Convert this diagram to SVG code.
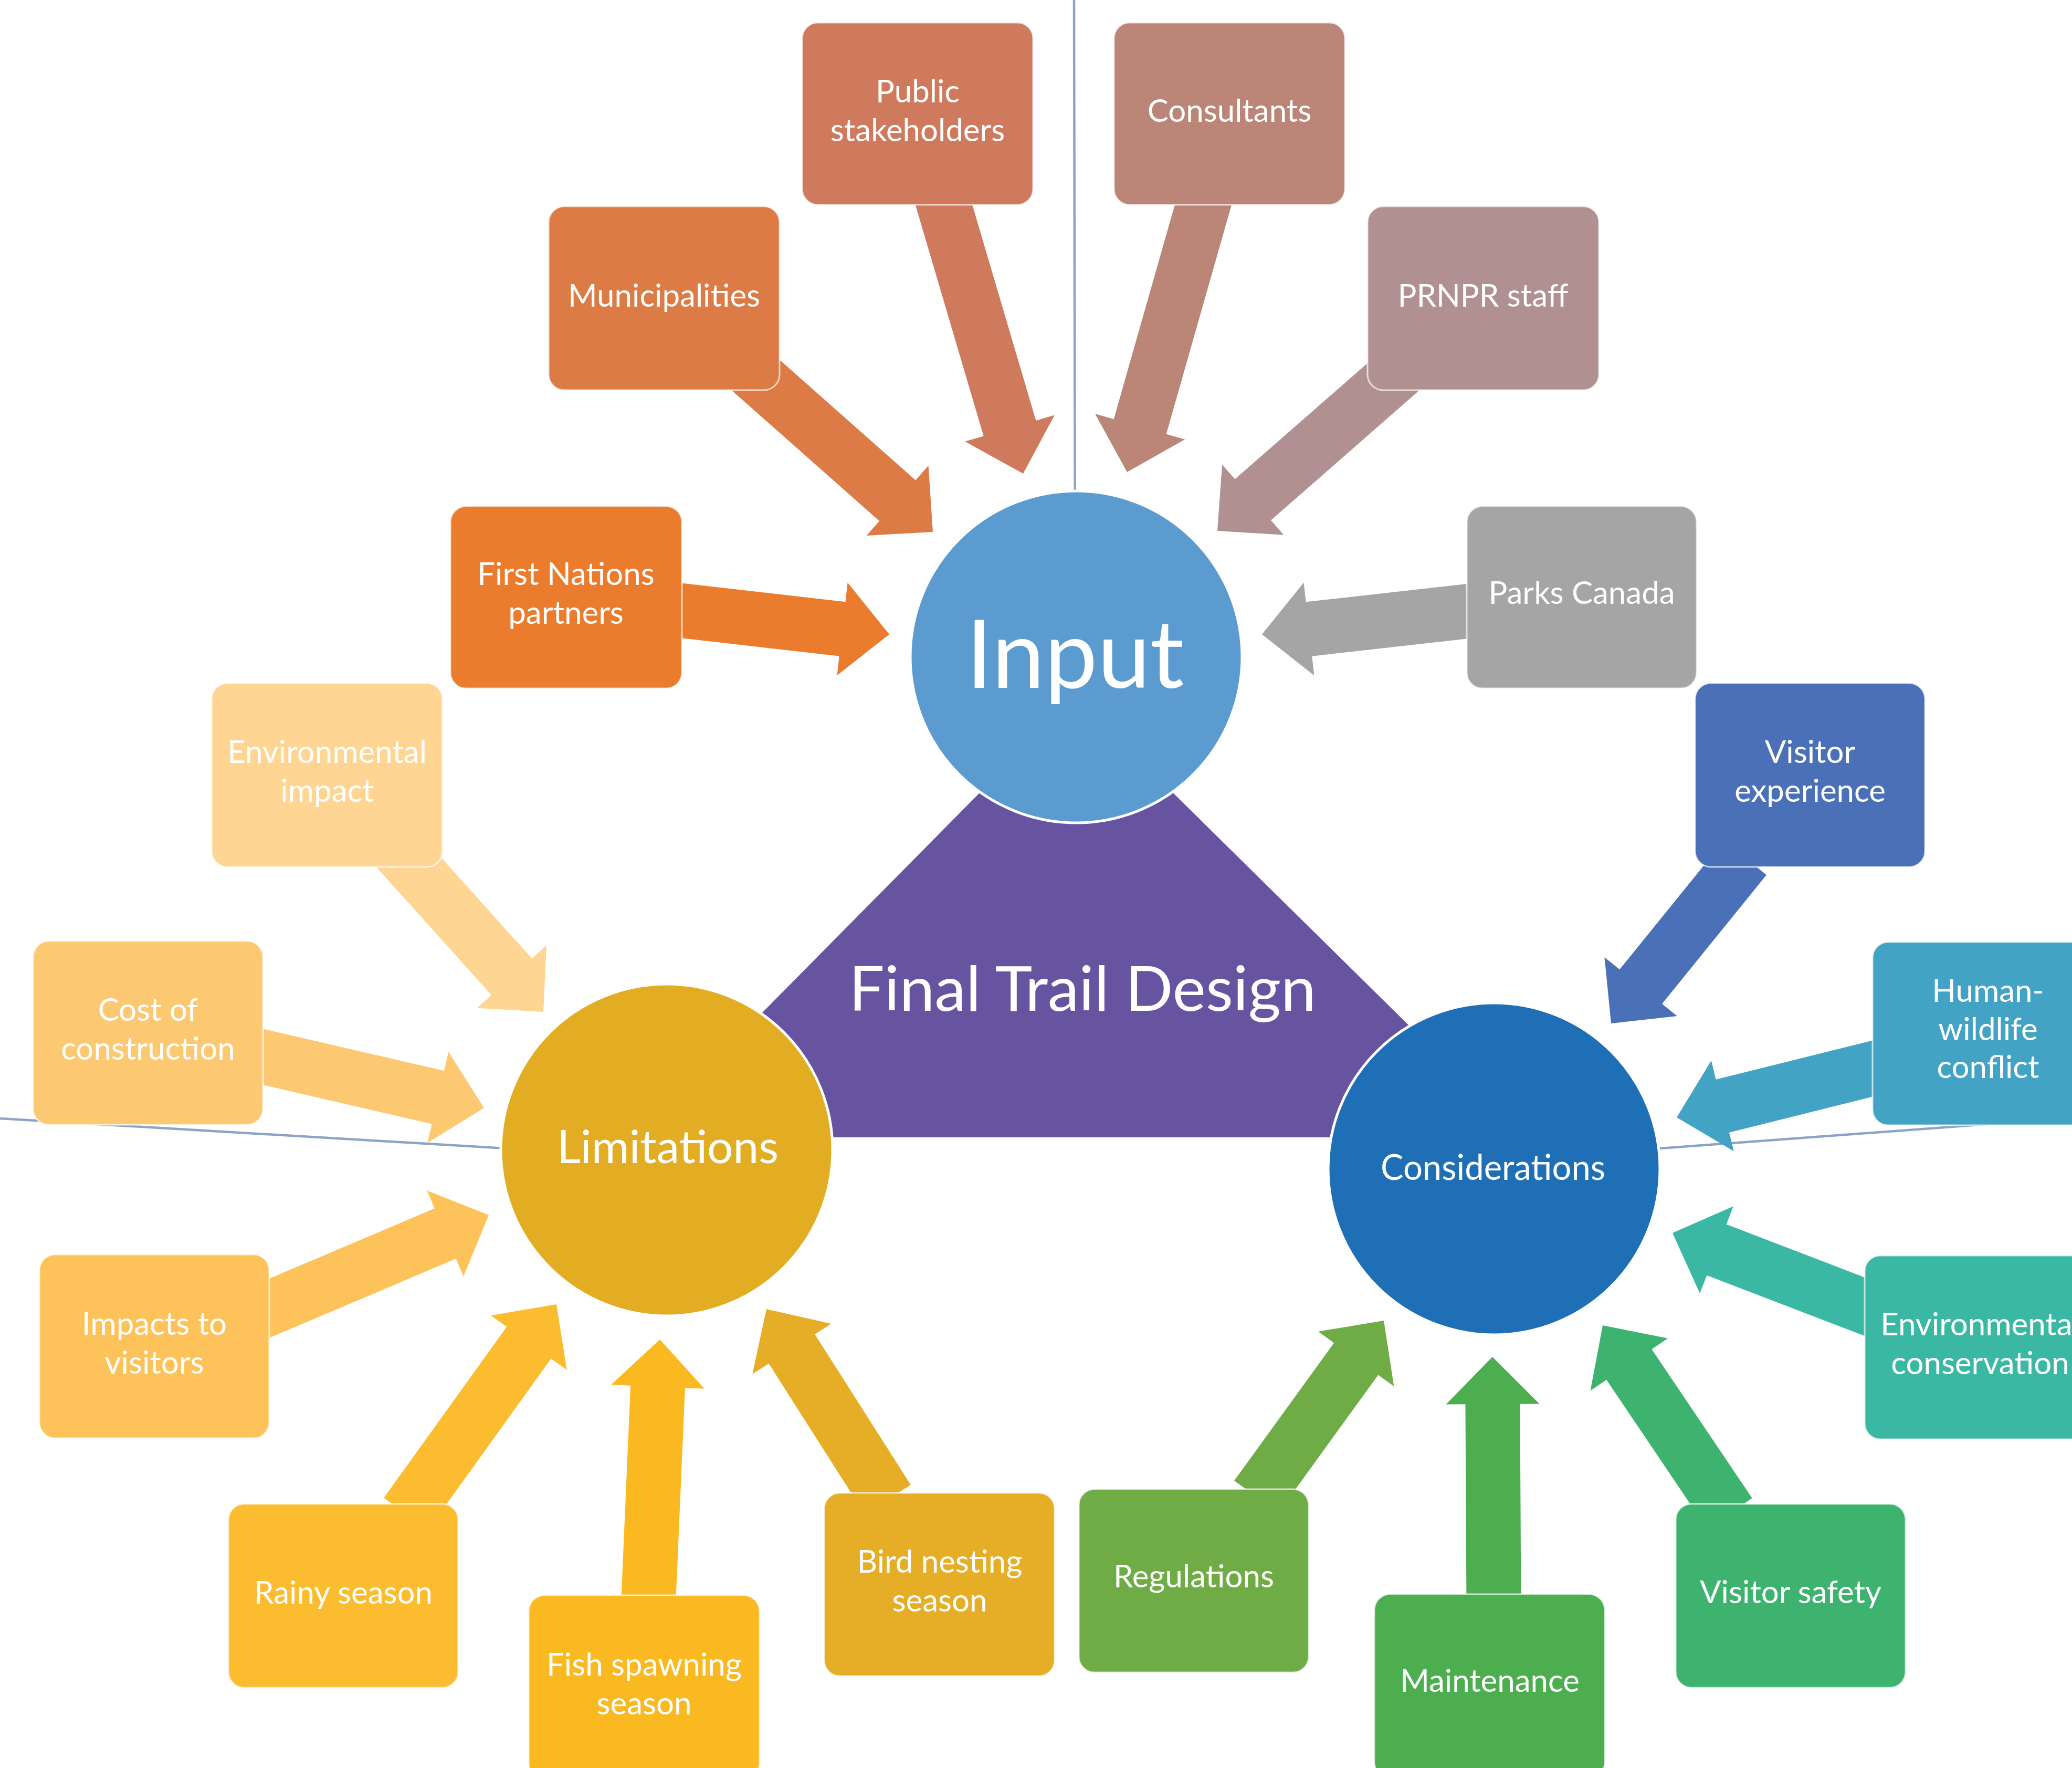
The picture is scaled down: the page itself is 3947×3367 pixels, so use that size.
<svg xmlns="http://www.w3.org/2000/svg" width="3947" height="3367" viewBox="0 0 3947 3367">
<style>
.lbl{font-family:Lato,"Open Sans","Liberation Sans",sans-serif;font-size:60px;fill:#ffffff;text-anchor:middle}
.big{font-family:Lato,"Open Sans","Liberation Sans",sans-serif;fill:#ffffff;text-anchor:middle}
.box{stroke:#ffffff;stroke-opacity:0.7;stroke-width:3}
.ax{stroke:#8ba4c6;stroke-width:4.5;fill:none}
.circ{stroke:#ffffff;stroke-width:5}
</style>
<rect x="0" y="0" width="3947" height="3367" fill="#ffffff"/>
<g id="axes">
<line class="ax" x1="2046" y1="0" x2="2048" y2="1100"/>
<line class="ax" x1="0" y1="2130" x2="1100" y2="2195"/>
<line class="ax" x1="3947" y1="2129" x2="3000" y2="2199"/>
</g>
<g id="connectors">
<path fill="#cf7a5d" transform="translate(1949,902) rotate(73.56)" d="M0,0 L-90,-89 L-90,-52 L-566,-52 L-566,52 L-90,52 L-90,89 Z"/>
<path fill="#bb8577" transform="translate(2147,899) rotate(105.9)" d="M0,0 L-90,-89 L-90,-52 L-562,-52 L-562,52 L-90,52 L-90,89 Z"/>
<path fill="#dc7b45" transform="translate(1777,1013) rotate(41.5)" d="M0,0 L-90,-89 L-90,-52 L-480,-52 L-480,52 L-90,52 L-90,89 Z"/>
<path fill="#b09090" transform="translate(2319,1011) rotate(138.8)" d="M0,0 L-90,-89 L-90,-52 L-480,-52 L-480,52 L-90,52 L-90,89 Z"/>
<path fill="#eb7c2e" transform="translate(1694,1208) rotate(6.5)" d="M0,0 L-90,-89 L-90,-52 L-450,-52 L-450,52 L-90,52 L-90,89 Z"/>
<path fill="#a5a5a5" transform="translate(2404,1208) rotate(173.6)" d="M0,0 L-90,-89 L-90,-52 L-439,-52 L-439,52 L-90,52 L-90,89 Z"/>
<path fill="#fed592" transform="translate(1035,1927) rotate(48)" d="M0,0 L-90,-89 L-90,-52 L-430,-52 L-430,52 L-90,52 L-90,89 Z"/>
<path fill="#fcc972" transform="translate(922,2110) rotate(13)" d="M0,0 L-90,-89 L-90,-52 L-464,-52 L-464,52 L-90,52 L-90,89 Z"/>
<path fill="#fdc35a" transform="translate(931,2314) rotate(-23)" d="M0,0 L-90,-89 L-90,-52 L-490,-52 L-490,52 L-90,52 L-90,89 Z"/>
<path fill="#fbbc2f" transform="translate(1060,2484) rotate(-54.3)" d="M0,0 L-90,-89 L-90,-52 L-491,-52 L-491,52 L-90,52 L-90,89 Z"/>
<path fill="#fbb921" transform="translate(1257,2551) rotate(-87.5)" d="M0,0 L-90,-89 L-90,-52 L-509,-52 L-509,52 L-90,52 L-90,89 Z"/>
<path fill="#e6ae26" transform="translate(1460,2493) rotate(-122.5)" d="M0,0 L-90,-89 L-90,-52 L-430,-52 L-430,52 L-90,52 L-90,89 Z"/>
<path fill="#6fac46" transform="translate(2636,2515) rotate(-54.1)" d="M0,0 L-90,-89 L-90,-52 L-414,-52 L-414,52 L-90,52 L-90,89 Z"/>
<path fill="#4cae4f" transform="translate(2843,2584) rotate(-90.3)" d="M0,0 L-90,-89 L-90,-52 L-472,-52 L-472,52 L-90,52 L-90,89 Z"/>
<path fill="#3db36f" transform="translate(3053,2524) rotate(-124)" d="M0,0 L-90,-89 L-90,-52 L-432,-52 L-432,52 L-90,52 L-90,89 Z"/>
<path fill="#3bb8a3" transform="translate(3186,2348) rotate(-159)" d="M0,0 L-90,-89 L-90,-52 L-429,-52 L-429,52 L-90,52 L-90,89 Z"/>
<path fill="#42a3c4" transform="translate(3194,2128) rotate(166)" d="M0,0 L-90,-89 L-90,-52 L-419,-52 L-419,52 L-90,52 L-90,89 Z"/>
<path fill="#4a70b7" transform="translate(3069,1949) rotate(129)" d="M0,0 L-90,-89 L-90,-52 L-406,-52 L-406,52 L-90,52 L-90,89 Z"/>
</g>
<g id="final-trail-design">
<polygon points="2048,1326 2900,2166 1217,2166" fill="#6654a0"/>
<text class="big" x="2062" y="1925" font-size="118" textLength="890" lengthAdjust="spacingAndGlyphs">Final Trail Design</text>
</g>
<g id="input">
<circle class="circ" cx="2050" cy="1251" r="316" fill="#5b9bd0"/>
<text class="big" x="2048" y="1310" font-size="180">Input</text>
</g>
<g id="limitations">
<circle class="circ" cx="1270" cy="2190" r="316" fill="#e3ad23"/>
<text class="big" x="1272" y="2215" font-size="88" textLength="422" lengthAdjust="spacingAndGlyphs">Limitations</text>
</g>
<g id="considerations">
<circle class="circ" cx="2846" cy="2226" r="316" fill="#1e6fb5"/>
<text class="big" x="2844" y="2247" font-size="68" textLength="428" lengthAdjust="spacingAndGlyphs">Considerations</text>
</g>
<g id="public-stakeholders">
<rect class="box" x="1528" y="43" width="440" height="347" rx="30" fill="#cf7a5d"/>
<text class="lbl" x="1748" y="195">Public</text>
<text class="lbl" x="1748" y="269">stakeholders</text>
</g>
<g id="consultants">
<rect class="box" x="2122" y="43" width="440" height="347" rx="30" fill="#bb8577"/>
<text class="lbl" x="2342" y="232">Consultants</text>
</g>
<g id="municipalities">
<rect class="box" x="1045" y="393" width="440" height="350" rx="30" fill="#dc7b45"/>
<text class="lbl" x="1265" y="584">Municipalities</text>
</g>
<g id="prnpr-staff">
<rect class="box" x="2605" y="393" width="441" height="350" rx="30" fill="#b09090"/>
<text class="lbl" x="2825" y="584">PRNPR staff</text>
</g>
<g id="first-nations-partners">
<rect class="box" x="858" y="964" width="441" height="347" rx="30" fill="#eb7c2e"/>
<text class="lbl" x="1078" y="1114">First Nations</text>
<text class="lbl" x="1078" y="1188">partners</text>
</g>
<g id="parks-canada">
<rect class="box" x="2794" y="964" width="438" height="347" rx="30" fill="#a5a5a5"/>
<text class="lbl" x="3013" y="1150">Parks Canada</text>
</g>
<g id="environmental-impact">
<rect class="box" x="403" y="1301" width="440" height="350" rx="30" fill="#fed592"/>
<text class="lbl" x="623" y="1453">Environmental</text>
<text class="lbl" x="623" y="1527">impact</text>
</g>
<g id="visitor-experience">
<rect class="box" x="3229" y="1301" width="438" height="350" rx="30" fill="#4a70b7"/>
<text class="lbl" x="3448" y="1453">Visitor</text>
<text class="lbl" x="3448" y="1527">experience</text>
</g>
<g id="cost-of-construction">
<rect class="box" x="63" y="1792" width="438" height="350" rx="30" fill="#fcc972"/>
<text class="lbl" x="282" y="1944">Cost of</text>
<text class="lbl" x="282" y="2018">construction</text>
</g>
<g id="human-wildlife-conflict">
<rect class="box" x="3567" y="1794" width="440" height="349" rx="30" fill="#42a3c4"/>
<text class="lbl" x="3787" y="1908">Human-</text>
<text class="lbl" x="3787" y="1981">wildlife</text>
<text class="lbl" x="3787" y="2053">conflict</text>
</g>
<g id="impacts-to-visitors">
<rect class="box" x="75" y="2389" width="438" height="350" rx="30" fill="#fdc35a"/>
<text class="lbl" x="294" y="2542">Impacts to</text>
<text class="lbl" x="294" y="2616">visitors</text>
</g>
<g id="environmental-conservation">
<rect class="box" x="3552" y="2391" width="440" height="350" rx="30" fill="#3bb8a3"/>
<text class="lbl" x="3772" y="2543">Environmental</text>
<text class="lbl" x="3772" y="2617">conservation</text>
</g>
<g id="rainy-season">
<rect class="box" x="435" y="2864" width="438" height="350" rx="30" fill="#fbbc2f"/>
<text class="lbl" x="654" y="3054">Rainy season</text>
</g>
<g id="fish-spawning-season">
<rect class="box" x="1007" y="3038" width="440" height="350" rx="30" fill="#fbb921"/>
<text class="lbl" x="1227" y="3191">Fish spawning</text>
<text class="lbl" x="1227" y="3265">season</text>
</g>
<g id="bird-nesting-season">
<rect class="box" x="1570" y="2843" width="439" height="349" rx="30" fill="#e6ae26"/>
<text class="lbl" x="1790" y="2995">Bird nesting</text>
<text class="lbl" x="1790" y="3069">season</text>
</g>
<g id="regulations">
<rect class="box" x="2055" y="2836" width="438" height="349" rx="30" fill="#6fac46"/>
<text class="lbl" x="2274" y="3023">Regulations</text>
</g>
<g id="maintenance">
<rect class="box" x="2618" y="3036" width="439" height="350" rx="30" fill="#4cae4f"/>
<text class="lbl" x="2838" y="3222">Maintenance</text>
</g>
<g id="visitor-safety">
<rect class="box" x="3192" y="2864" width="438" height="350" rx="30" fill="#3db36f"/>
<text class="lbl" x="3411" y="3053">Visitor safety</text>
</g>
</svg>
